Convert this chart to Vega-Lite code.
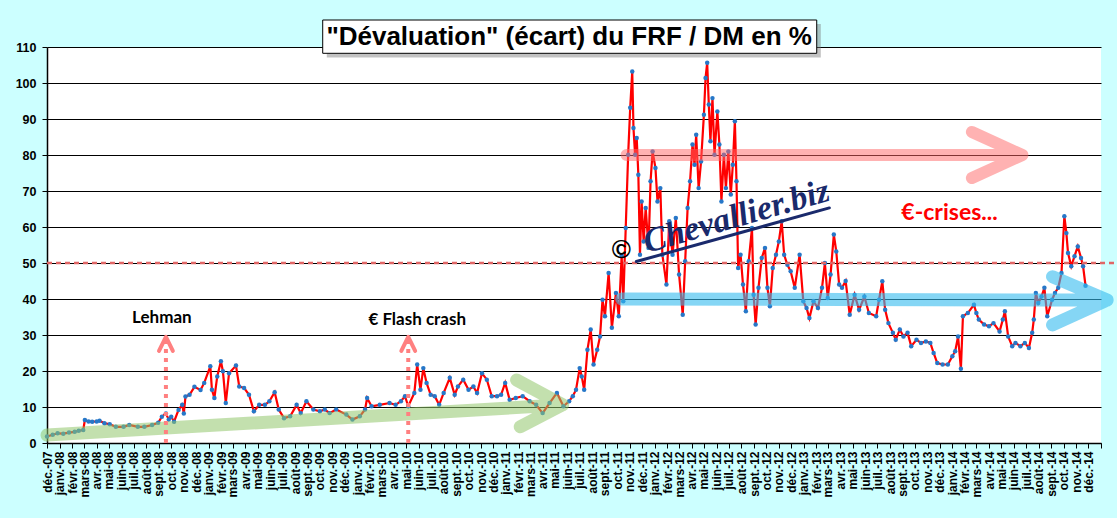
{
  "$schema": "https://vega.github.io/schema/vega-lite/v6.json",
  "width": 1054,
  "height": 396,
  "autosize": {"type": "none"},
  "padding": {"left": 47, "top": 47, "right": 16, "bottom": 75},
  "background": "#CCFFFF",
  "config": {
    "view": {"stroke": null, "fill": "#FFFFFF"}
  },
  "datasets": {
    "series": [
      {"d":"2007-12-01","v":1.8},{"d":"2007-12-15","v":2.3},{"d":"2007-12-27","v":2.7},{"d":"2008-01-10","v":2.6},{"d":"2008-01-24","v":2.9},
      {"d":"2008-02-07","v":3.1},{"d":"2008-02-17","v":3.4},{"d":"2008-02-28","v":3.6},{"d":"2008-03-03","v":6.4},{"d":"2008-03-12","v":6.0},
      {"d":"2008-03-21","v":5.9},{"d":"2008-04-01","v":6.0},{"d":"2008-04-08","v":6.2},{"d":"2008-04-20","v":5.5},{"d":"2008-05-03","v":5.2},
      {"d":"2008-05-18","v":4.5},{"d":"2008-06-06","v":4.5},{"d":"2008-06-20","v":5.0},{"d":"2008-07-11","v":4.5},{"d":"2008-07-27","v":4.5},
      {"d":"2008-08-15","v":5.0},{"d":"2008-08-30","v":5.6},{"d":"2008-09-08","v":7.3},{"d":"2008-09-18","v":8.2},{"d":"2008-09-25","v":6.5},
      {"d":"2008-10-01","v":7.3},{"d":"2008-10-08","v":5.9},{"d":"2008-10-19","v":9.2},{"d":"2008-10-28","v":10.6},{"d":"2008-11-01","v":8.2},
      {"d":"2008-11-05","v":12.9},{"d":"2008-11-15","v":13.4},{"d":"2008-11-27","v":15.6},{"d":"2008-12-12","v":14.7},{"d":"2008-12-21","v":16.7},
      {"d":"2009-01-05","v":21.3},{"d":"2009-01-09","v":14.8},{"d":"2009-01-15","v":12.5},{"d":"2009-01-22","v":18.5},{"d":"2009-01-31","v":22.7},
      {"d":"2009-02-05","v":19.9},{"d":"2009-02-12","v":11.1},{"d":"2009-02-20","v":19.4},{"d":"2009-03-09","v":21.5},{"d":"2009-03-17","v":15.7},
      {"d":"2009-03-29","v":15.3},{"d":"2009-04-10","v":13.4},{"d":"2009-04-22","v":8.8},{"d":"2009-05-05","v":10.6},{"d":"2009-05-19","v":10.6},
      {"d":"2009-05-30","v":11.6},{"d":"2009-06-12","v":14.1},{"d":"2009-06-22","v":9.3},{"d":"2009-07-05","v":6.9},{"d":"2009-07-20","v":7.4},
      {"d":"2009-08-05","v":10.6},{"d":"2009-08-15","v":8.3},{"d":"2009-08-29","v":11.6},{"d":"2009-09-15","v":9.3},{"d":"2009-10-01","v":8.8},
      {"d":"2009-10-13","v":9.3},{"d":"2009-10-25","v":8.3},{"d":"2009-11-10","v":9.3},{"d":"2009-12-05","v":7.9},{"d":"2009-12-20","v":6.5},
      {"d":"2010-01-07","v":7.4},{"d":"2010-01-20","v":9.3},{"d":"2010-01-25","v":12.5},{"d":"2010-02-05","v":10.2},{"d":"2010-02-25","v":10.6},
      {"d":"2010-03-21","v":11.1},{"d":"2010-04-05","v":10.6},{"d":"2010-04-18","v":11.6},{"d":"2010-04-28","v":13.0},{"d":"2010-05-06","v":10.2},
      {"d":"2010-05-21","v":13.9},{"d":"2010-05-28","v":21.8},{"d":"2010-06-05","v":14.8},{"d":"2010-06-12","v":20.8},{"d":"2010-06-20","v":16.7},
      {"d":"2010-06-30","v":13.4},{"d":"2010-07-10","v":13.0},{"d":"2010-07-21","v":10.6},{"d":"2010-08-01","v":13.9},{"d":"2010-08-16","v":18.1},
      {"d":"2010-08-28","v":13.4},{"d":"2010-09-05","v":15.7},{"d":"2010-09-18","v":17.6},{"d":"2010-10-01","v":14.8},{"d":"2010-10-13","v":15.7},
      {"d":"2010-10-22","v":13.9},{"d":"2010-11-03","v":19.4},{"d":"2010-11-15","v":17.6},{"d":"2010-11-27","v":13.0},{"d":"2010-12-10","v":13.0},
      {"d":"2010-12-20","v":13.4},{"d":"2010-12-30","v":16.7},{"d":"2011-01-10","v":12.0},{"d":"2011-01-25","v":12.5},{"d":"2011-02-11","v":13.0},
      {"d":"2011-02-28","v":11.6},{"d":"2011-03-16","v":10.6},{"d":"2011-04-01","v":8.3},{"d":"2011-04-18","v":11.1},{"d":"2011-05-06","v":13.9},
      {"d":"2011-05-22","v":10.2},{"d":"2011-06-05","v":11.6},{"d":"2011-06-14","v":13.0},{"d":"2011-06-22","v":14.8},{"d":"2011-07-01","v":20.8},
      {"d":"2011-07-06","v":18.5},{"d":"2011-07-12","v":14.8},{"d":"2011-07-20","v":25.9},{"d":"2011-07-28","v":31.5},{"d":"2011-08-04","v":21.8},
      {"d":"2011-08-13","v":25.9},{"d":"2011-08-20","v":29.6},{"d":"2011-08-26","v":39.8},{"d":"2011-09-01","v":35.2},{"d":"2011-09-10","v":47.2},
      {"d":"2011-09-18","v":32.0},{"d":"2011-09-28","v":41.7},{"d":"2011-10-05","v":35.2},{"d":"2011-10-12","v":52.0},{"d":"2011-10-16","v":39.4},
      {"d":"2011-10-22","v":59.7},{"d":"2011-10-28","v":80.1},{"d":"2011-11-02","v":93.1},{"d":"2011-11-07","v":103.2},{"d":"2011-11-10","v":87.5},
      {"d":"2011-11-14","v":80.1},{"d":"2011-11-18","v":84.7},{"d":"2011-11-22","v":74.5},{"d":"2011-11-26","v":52.3},{"d":"2011-11-30","v":67.1},
      {"d":"2011-12-05","v":56.0},{"d":"2011-12-10","v":65.3},{"d":"2011-12-17","v":54.2},{"d":"2011-12-22","v":72.7},{"d":"2011-12-27","v":81.0},
      {"d":"2012-01-03","v":76.4},{"d":"2012-01-08","v":67.1},{"d":"2012-01-15","v":70.8},{"d":"2012-01-20","v":52.3},{"d":"2012-01-30","v":44.0},
      {"d":"2012-02-06","v":61.6},{"d":"2012-02-14","v":52.3},{"d":"2012-02-22","v":62.5},{"d":"2012-03-01","v":46.8},{"d":"2012-03-10","v":35.6},
      {"d":"2012-03-16","v":50.5},{"d":"2012-03-22","v":65.3},{"d":"2012-03-28","v":72.7},{"d":"2012-04-03","v":82.9},{"d":"2012-04-08","v":77.3},
      {"d":"2012-04-12","v":85.6},{"d":"2012-04-18","v":70.8},{"d":"2012-04-24","v":78.2},{"d":"2012-05-01","v":91.2},{"d":"2012-05-05","v":101.4},
      {"d":"2012-05-09","v":105.6},{"d":"2012-05-13","v":94.0},{"d":"2012-05-17","v":83.8},{"d":"2012-05-22","v":95.8},{"d":"2012-05-27","v":80.1},
      {"d":"2012-06-03","v":92.1},{"d":"2012-06-08","v":82.9},{"d":"2012-06-13","v":67.1},{"d":"2012-06-19","v":80.1},{"d":"2012-06-24","v":70.8},
      {"d":"2012-06-30","v":81.0},{"d":"2012-07-06","v":69.0},{"d":"2012-07-11","v":77.3},{"d":"2012-07-16","v":89.4},{"d":"2012-07-20","v":72.7},
      {"d":"2012-07-24","v":48.6},{"d":"2012-07-30","v":52.3},{"d":"2012-08-05","v":44.0},{"d":"2012-08-12","v":36.6},{"d":"2012-08-19","v":50.5},
      {"d":"2012-08-27","v":59.7},{"d":"2012-08-31","v":41.2},{"d":"2012-09-05","v":32.9},{"d":"2012-09-12","v":43.1},{"d":"2012-09-20","v":51.4},
      {"d":"2012-09-28","v":54.2},{"d":"2012-10-04","v":43.1},{"d":"2012-10-10","v":38.0},{"d":"2012-10-17","v":48.6},{"d":"2012-10-25","v":52.3},
      {"d":"2012-11-01","v":56.0},{"d":"2012-11-08","v":61.6},{"d":"2012-11-14","v":52.3},{"d":"2012-11-22","v":49.5},{"d":"2012-11-30","v":47.7},
      {"d":"2012-12-10","v":43.1},{"d":"2012-12-22","v":52.3},{"d":"2012-12-31","v":39.4},{"d":"2013-01-08","v":37.5},{"d":"2013-01-15","v":34.7},
      {"d":"2013-01-25","v":39.4},{"d":"2013-02-05","v":37.5},{"d":"2013-02-15","v":43.1},{"d":"2013-02-22","v":50.0},{"d":"2013-03-01","v":40.3},
      {"d":"2013-03-08","v":46.8},{"d":"2013-03-16","v":57.9},{"d":"2013-03-22","v":53.2},{"d":"2013-03-29","v":44.0},{"d":"2013-04-05","v":43.1},
      {"d":"2013-04-14","v":45.0},{"d":"2013-04-24","v":35.6},{"d":"2013-05-06","v":41.2},{"d":"2013-05-17","v":37.0},{"d":"2013-05-30","v":40.7},
      {"d":"2013-06-10","v":36.1},{"d":"2013-06-28","v":35.2},{"d":"2013-07-05","v":39.8},{"d":"2013-07-13","v":44.9},{"d":"2013-07-20","v":37.0},
      {"d":"2013-07-28","v":33.3},{"d":"2013-08-08","v":30.6},{"d":"2013-08-15","v":28.7},{"d":"2013-08-25","v":31.5},{"d":"2013-09-03","v":29.6},
      {"d":"2013-09-13","v":30.6},{"d":"2013-09-22","v":26.9},{"d":"2013-10-05","v":28.7},{"d":"2013-10-16","v":27.8},{"d":"2013-10-28","v":28.2},
      {"d":"2013-11-08","v":27.8},{"d":"2013-11-16","v":25.0},{"d":"2013-11-25","v":22.2},{"d":"2013-12-08","v":21.8},{"d":"2013-12-21","v":21.8},
      {"d":"2014-01-01","v":24.1},{"d":"2014-01-08","v":25.5},{"d":"2014-01-15","v":29.6},{"d":"2014-01-22","v":20.6},{"d":"2014-01-27","v":35.2},
      {"d":"2014-02-08","v":36.1},{"d":"2014-02-23","v":38.4},{"d":"2014-03-01","v":36.1},{"d":"2014-03-07","v":34.3},{"d":"2014-03-20","v":32.9},
      {"d":"2014-04-01","v":32.4},{"d":"2014-04-12","v":33.3},{"d":"2014-04-27","v":31.0},{"d":"2014-05-05","v":34.3},{"d":"2014-05-10","v":36.6},
      {"d":"2014-05-18","v":29.6},{"d":"2014-05-28","v":26.9},{"d":"2014-06-05","v":27.8},{"d":"2014-06-17","v":26.9},{"d":"2014-06-28","v":27.8},
      {"d":"2014-07-08","v":26.4},{"d":"2014-07-16","v":30.6},{"d":"2014-07-20","v":34.3},{"d":"2014-07-25","v":41.7},{"d":"2014-07-31","v":38.9},
      {"d":"2014-08-08","v":40.7},{"d":"2014-08-15","v":43.1},{"d":"2014-08-22","v":35.2},{"d":"2014-09-03","v":39.8},{"d":"2014-09-10","v":41.7},
      {"d":"2014-09-18","v":43.1},{"d":"2014-09-26","v":47.2},{"d":"2014-10-03","v":63.0},{"d":"2014-10-08","v":58.3},{"d":"2014-10-12","v":52.8},
      {"d":"2014-10-20","v":49.1},{"d":"2014-10-28","v":51.9},{"d":"2014-11-05","v":54.6},{"d":"2014-11-13","v":51.4},{"d":"2014-11-18","v":49.1},
      {"d":"2014-11-24","v":43.7}
    ]
  },
  "encoding": {
    "x": {"field": "d", "type": "temporal", "title": null,
      "scale": {"type": "utc", "nice": false, "domain": [{"year": 2007, "month": 12, "date": 1, "utc": true}, {"year": 2015, "month": 1, "date": 1, "utc": true}]},
      "axis": {"tickCount": {"interval": "month", "step": 1}, "labelAngle": -90, "labelFont": "Liberation Sans", "labelFontWeight": "bold", "labelColor": "#000000", "labelFontSize": 12, "labelOverlap": false, "labelFlush": false, "labelBound": false, "tickSize": 5, "tickColor": "#000000", "labelPadding": 3, "grid": false, "domainColor": "#000000", "domainWidth": 1.5,
        "labelExpr": "utcyear(datum.value) >= 2015 ? '' : ['janv.','févr.','mars','avr.','mai','juin','juil.','août','sept.','oct.','nov.','déc.'][utcmonth(datum.value)] + '-' + utcFormat(datum.value, '%y')"}},
    "y": {"field": "v", "type": "quantitative", "title": null,
      "scale": {"domain": [0, 110], "nice": false, "zero": true},
      "axis": {"values": [0,10,20,30,40,50,60,70,80,90,100,110], "labelOverlap": false, "labelFont": "Liberation Sans", "labelFontWeight": "bold", "labelColor": "#000000", "labelFontSize": 12.5, "tickSize": 5, "tickColor": "#000000", "labelPadding": 6, "grid": true, "gridColor": "#000000", "gridOpacity": 1, "gridWidth": 1.2, "domainColor": "#000000", "domainWidth": 1.5}}
  },
  "layer": [
    {
      "data": {"name": "series"},
      "mark": {"type": "line", "color": "#FF0000", "strokeWidth": 2.2, "point": {"filled": true, "color": "#2677C8", "fill": "#2677C8", "size": 20}}
    },
    {
      "data": {"values": [
        {"d":"2007-12-01","v":2.2,"o":1},{"d":"2011-05-20","v":10.6,"o":2},{"d":"2011-01-27","v":17.5,"o":3},{"d":"2011-05-20","v":10.6,"o":4},{"d":"2011-02-05","v":4.5,"o":5}
      ]},
      "mark": {"type": "line", "color": "#92C76B", "opacity": 0.55, "strokeWidth": 13, "strokeCap": "round", "strokeJoin": "round"},
      "encoding": {"order": {"field": "o"}}
    },
    {
      "data": {"values": [
        {"d":"2011-10-24","v":80,"o":1},{"d":"2014-06-22","v":80,"o":2},{"d":"2014-02-18","v":86.4,"o":3},{"d":"2014-06-22","v":80,"o":4},{"d":"2014-02-18","v":73.6,"o":5}
      ]},
      "mark": {"type": "line", "color": "#FF6666", "opacity": 0.5, "strokeWidth": 12, "strokeCap": "round", "strokeJoin": "round"},
      "encoding": {"order": {"field": "o"}}
    },
    {
      "data": {"values": [
        {"d":"2011-10-12","v":40,"o":1},{"d":"2015-01-16","v":39.7,"o":2},{"d":"2014-09-04","v":46.2,"o":3},{"d":"2015-01-16","v":39.7,"o":4},{"d":"2014-09-04","v":32.8,"o":5}
      ]},
      "mark": {"type": "line", "color": "#33BBEE", "opacity": 0.6, "strokeWidth": 13, "strokeCap": "round", "strokeJoin": "round"},
      "encoding": {"order": {"field": "o"}}
    },
    {
      "data": {"values": [{"d":"2007-12-01","d2":"2015-02-10","v":50}]},
      "mark": {"type": "rule", "color": "#E06666", "strokeWidth": 2.5, "strokeDash": [5, 4]},
      "encoding": {"x2": {"field": "d2"}}
    },
    {
      "data": {"values": [{"d":"2008-09-18","v":0,"v2":28.5},{"d":"2010-05-06","v":0,"v2":28.5}]},
      "mark": {"type": "rule", "color": "#FF8080", "strokeWidth": 4, "strokeDash": [4, 5]},
      "encoding": {"y2": {"field": "v2"}}
    },
    {
      "data": {"values": [
        {"a":"L","d":"2008-09-01","v":25.6,"o":1},{"a":"L","d":"2008-09-18","v":29.5,"o":2},{"a":"L","d":"2008-10-05","v":25.6,"o":3},
        {"a":"F","d":"2010-04-19","v":25.6,"o":1},{"a":"F","d":"2010-05-06","v":29.5,"o":2},{"a":"F","d":"2010-05-23","v":25.6,"o":3}
      ]},
      "mark": {"type": "line", "color": "#FF8080", "strokeWidth": 4, "strokeCap": "round", "strokeJoin": "round"},
      "encoding": {"detail": {"field": "a"}, "order": {"field": "o"}}
    },
    {
      "data": {"values": [{"d":"2008-09-08","v":34.7,"t":"Lehman"},{"d":"2010-05-28","v":34.2,"t":"€ Flash crash"}]},
      "mark": {"type": "text", "font": "Lato", "fontWeight": "bold", "fontSize": 17, "color": "#000000", "align": "center", "baseline": "middle"},
      "encoding": {"text": {"field": "t"}}
    },
    {
      "data": {"values": [{"d":"2013-12-25","v":63.9,"t":"€-crises..."}]},
      "mark": {"type": "text", "font": "Lato", "fontWeight": "bold", "fontSize": 23, "color": "#FF0000", "align": "center", "baseline": "middle"},
      "encoding": {"text": {"field": "t"}}
    },
    {
      "data": {"values": [{"d":"2011-11-17","v":50.4,"d2":"2013-03-05","v2":65.3}]},
      "mark": {"type": "rule", "color": "#1A2A6C", "strokeWidth": 3, "strokeCap": "round"},
      "encoding": {"x2": {"field": "d2"}, "y2": {"field": "v2"}}
    },
    {
      "data": {"values": [{"d":"2012-07-20","v":62.8,"t":"Chevallier.biz"}]},
      "mark": {"type": "text", "font": "Liberation Serif", "fontWeight": "bold", "fontStyle": "italic", "fontSize": 34, "color": "#1A2A6C", "align": "center", "baseline": "middle", "angle": -16},
      "encoding": {"text": {"field": "t"}}
    },
    {
      "data": {"values": [{"d":"2011-10-11","v":53.6,"t":"©"}]},
      "mark": {"type": "text", "font": "Liberation Sans", "fontWeight": "bold", "fontSize": 26, "color": "#000000", "align": "center", "baseline": "middle"},
      "encoding": {"text": {"field": "t"}}
    },
    {
      "data": {"values": [{"d":"2009-10-18","d2":"2013-02-12","v":116.4,"v2":107.1}]},
      "mark": {"type": "rect", "color": "#777777", "opacity": 0.45},
      "encoding": {"x2": {"field": "d2"}, "y2": {"field": "v2"}}
    },
    {
      "data": {"values": [{"d":"2009-10-08","d2":"2013-02-02","v":117.5,"v2":108.25}]},
      "mark": {"type": "rect", "fill": "#FFFFFF", "stroke": "#000000", "strokeWidth": 1, "opacity": 1},
      "encoding": {"x2": {"field": "d2"}, "y2": {"field": "v2"}}
    },
    {
      "data": {"values": [{"d":"2011-06-05","v":112.9,"t":"\"Dévaluation\" (écart) du FRF / DM en %"}]},
      "mark": {"type": "text", "font": "Liberation Sans", "fontWeight": "bold", "fontSize": 26, "color": "#000000", "align": "center", "baseline": "middle"},
      "encoding": {"text": {"field": "t"}}
    }
  ]
}
